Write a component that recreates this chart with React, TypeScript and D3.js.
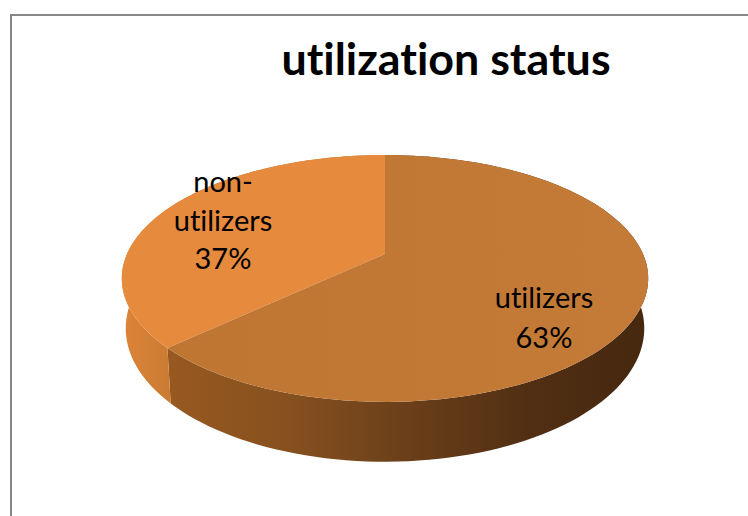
import React from "react";
import * as d3 from "d3";

const categories = ["utilizers", "non-utilizers"];
const shares = [63, 37];

const width = 748;
const height = 516;

// pie projection, worked out from the picture
const cx = 385;
const cy = 254;
const rx = 258;
const ry = 118.6;
const persp = 0.198;
const depth = 48;
const baseScale = 0.985;

const topPoint = (a: number): [number, number] => {
  const X = Math.sin(a);
  const Y = Math.cos(a);
  const w = 1 + persp * Y;
  return [cx + (rx * X) / w, cy - (ry * Y) / w];
};

const basePoint = (a: number): [number, number] => {
  const [x, y] = topPoint(a);
  const w = 1 + persp * Math.cos(a);
  return [cx + (x - cx) * baseScale, y + depth / w];
};

const sample = (a0: number, a1: number) =>
  d3.range(0, 121).map((i) => a0 + ((a1 - a0) * i) / 120);

const line = d3.line().curve(d3.curveLinear);

export default function App() {
  const arcs = d3
    .pie<number>()
    .sort(null)
    .value((d) => d)(shares);

  const faces = arcs.map((d, i) => {
    const angles = sample(d.startAngle, d.endAngle);
    const top = angles.map(topPoint);
    const base = angles.map(basePoint);
    return {
      name: categories[i],
      topPath: line([[cx, cy], ...top])! + "Z",
      rimPath: line([...top, ...base.reverse()])! + "Z",
    };
  });

  return (
    <svg
      width={width}
      height={height}
      style={{ position: "absolute", left: 0, top: 0, background: "#fff", fontVariantLigatures: "none" }}
      fontFamily="Lato, Carlito, sans-serif"
    >
      <defs>
        <linearGradient id="rim0" gradientUnits="userSpaceOnUse" x1="172" x2="645" y1="0" y2="0">
          <stop offset="0" stopColor="#97591f" />
          <stop offset="0.25" stopColor="#86501f" />
          <stop offset="0.5" stopColor="#6a3f19" />
          <stop offset="0.75" stopColor="#522f13" />
          <stop offset="1" stopColor="#45280f" />
        </linearGradient>
        <linearGradient id="rim1" gradientUnits="userSpaceOnUse" x1="122" x2="175" y1="0" y2="0">
          <stop offset="0" stopColor="#dc8439" />
          <stop offset="1" stopColor="#c97a33" />
        </linearGradient>
        <linearGradient id="top0" gradientUnits="userSpaceOnUse" x1="172" x2="648" y1="0" y2="0">
          <stop offset="0" stopColor="#bf7632" />
          <stop offset="1" stopColor="#c57b38" />
        </linearGradient>
      </defs>

      <path d={`M11 516V15H748`} fill="none" stroke="#868686" strokeWidth={2} />

      <text x={446} y={75} textAnchor="middle" fontSize={44.8} fontWeight={700} fill="#000">
        utilization status
      </text>

      <path d={faces[0].rimPath} fill="url(#rim0)" />
      <path d={faces[1].rimPath} fill="url(#rim1)" />
      <path d={faces[1].topPath} fill="#e68a3e" />
      <path d={faces[0].topPath} fill="url(#top0)" />

      <g fontSize={29} textAnchor="middle" fill="#000">
        <text x={223} y={192}>non-</text>
        <text x={223} y={231}>utilizers</text>
        <text x={223} y={269}>{shares[1]}%</text>
        <text x={544} y={308}>utilizers</text>
        <text x={544} y={348}>{shares[0]}%</text>
      </g>
    </svg>
  );
}
